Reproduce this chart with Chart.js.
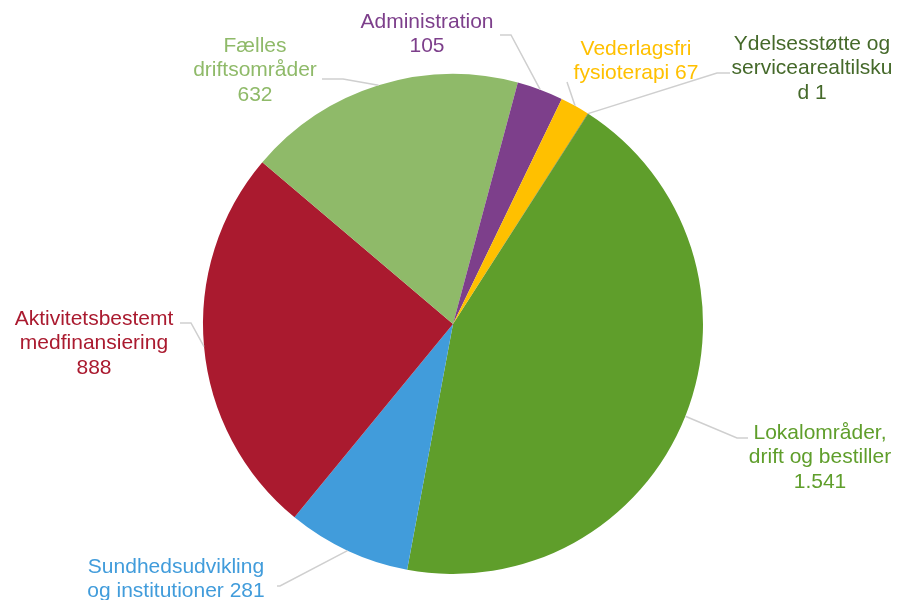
<!DOCTYPE html>
<html>
<head>
<meta charset="utf-8">
<script src="https://cdn.jsdelivr.net/npm/chart.js@4/dist/chart.umd.min.js"></script>
<style>
  body { margin: 0; background: #fff; }
</style>
</head>
<body>
<canvas id="my-chart" width="898" height="600"></canvas>
<script>
'use strict';

// ****** DATA ******
let categories = [
  'Lokalområder, drift og bestiller',
  'Sundhedsudvikling og institutioner',
  'Aktivitetsbestemt medfinansiering',
  'Fælles driftsområder',
  'Administration',
  'Vederlagsfri fysioterapi',
  'Ydelsesstøtte og servicearealtilskud'
];
let amounts = [1541, 281, 888, 632, 105, 67, 1];
let valueLabels = ['1.541', '281', '888', '632', '105', '67', '1'];

// text lines of each label, as wrapped in the picture
let labelLines = [
  ['Lokalområder,', 'drift og bestiller', '1.541'],
  ['Sundhedsudvikling', 'og institutioner 281'],
  ['Aktivitetsbestemt', 'medfinansiering', '888'],
  ['Fælles', 'driftsområder', '632'],
  ['Administration', '105'],
  ['Vederlagsfri', 'fysioterapi 67'],
  ['Ydelsesstøtte og', 'servicearealtilsku', 'd 1']
];

// ****** STYLE / LAYOUT ******
let sliceColors = ['#5f9e2b', '#419cdb', '#aa1a2f', '#8fba69', '#7d3f8b', '#ffc000', '#45692a'];
let textColors = ['#5f9e2b', '#419cdb', '#aa1a2f', '#8fba69', '#7d3f8b', '#ffc000', '#45692a'];

// label block centre (x, y of first line) and leader elbow [elbowX, elbowY, endX]
let labelPos = [
  [820, 433], [176, 567], [94, 319], [255, 46], [427, 22], [636, 49], [812, 44]
];
let leaderPts = [
  [737, 438, 748], [280, 586, 277], [191, 323, 180], [343, 79, 322],
  [511, 35, 500], [567, 82, 567], [717, 73, 730]
];

// ****** PLUGIN: outside labels with leader lines ******
let outsideLabels = {
  id: 'outsideLabels',
  afterDraw(chart) {
    let ctx = chart.ctx;
    let arcs = chart.getDatasetMeta(0).data;
    ctx.save();
    for (let i = 0; i < arcs.length; i++) {
      let arc = arcs[i];
      let mid = (arc.startAngle + arc.endAngle) / 2;
      let sx = arc.x + Math.cos(mid) * arc.outerRadius;
      let sy = arc.y + Math.sin(mid) * arc.outerRadius;
      let p = leaderPts[i];
      ctx.strokeStyle = '#cfcfcf';
      ctx.lineWidth = 1.5;
      ctx.beginPath();
      ctx.moveTo(sx, sy);
      ctx.lineTo(p[0], p[1]);
      ctx.lineTo(p[2], p[1]);
      ctx.stroke();

      ctx.fillStyle = textColors[i];
      ctx.font = '21px "Liberation Sans", Arial, sans-serif';
      ctx.textAlign = 'center';
      ctx.textBaseline = 'middle';
      let lines = labelLines[i];
      for (let j = 0; j < lines.length; j++) {
        ctx.fillText(lines[j], labelPos[i][0], labelPos[i][1] + j * 24.5);
      }
    }
    ctx.restore();
  }
};

let canvasElem = document.getElementById('my-chart').getContext('2d');

let myChartObj = {
  type: 'pie',
  data: {
    labels: categories,
    datasets: [{
      data: amounts,
      backgroundColor: sliceColors,
      borderWidth: 0
    }]
  },
  options: {
    responsive: false,
    animation: false,
    rotation: 32.75,
    layout: {
      padding: { top: 74, bottom: 26, left: 203, right: 195 }
    },
    plugins: {
      legend: { display: false },
      tooltip: { enabled: false }
    }
  },
  plugins: [outsideLabels]
};

new Chart(canvasElem, myChartObj);
</script>
</body>
</html>
